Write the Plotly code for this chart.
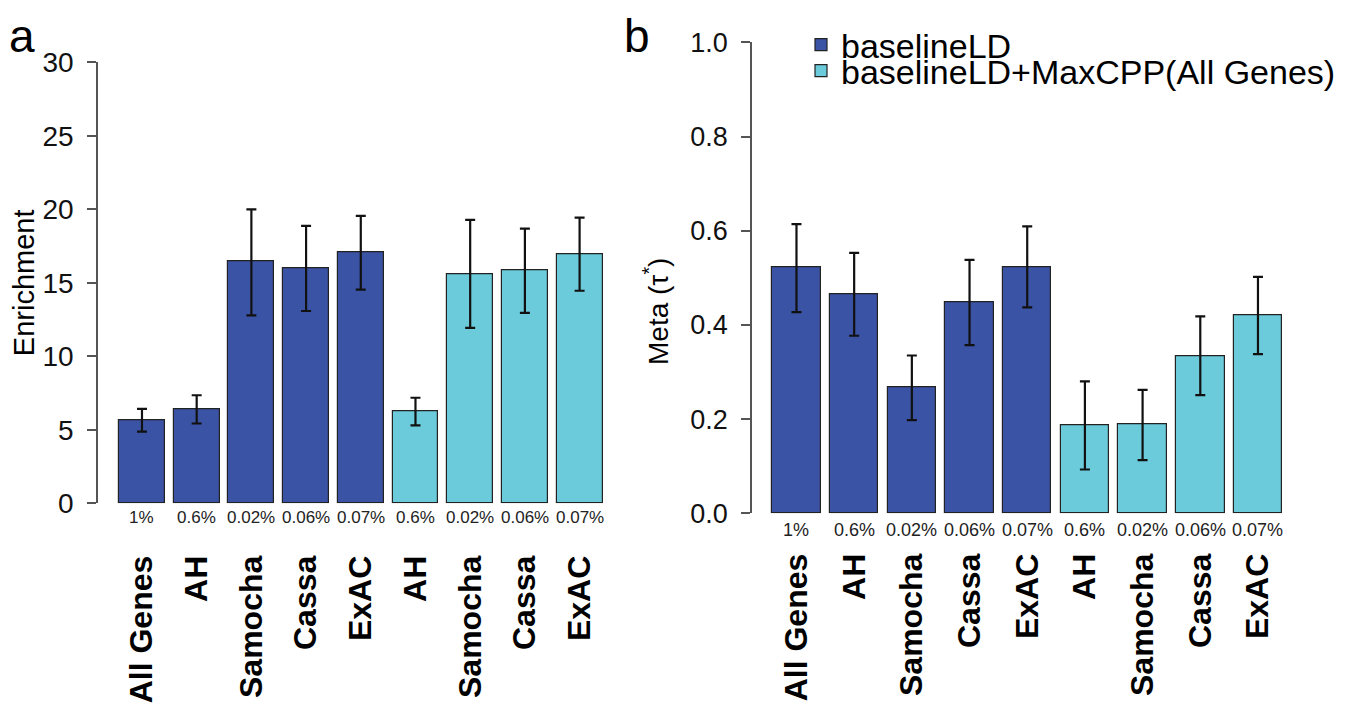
import plotly.graph_objects as go

W, H = 1369, 708
OFF = 8  # page body margin in the browser

categories = ["All Genes", "AH", "Samocha", "Cassa", "ExAC", "AH", "Samocha", "Cassa", "ExAC"]
pct_labels = ["1%", "0.6%", "0.02%", "0.06%", "0.07%", "0.6%", "0.02%", "0.06%", "0.07%"]
group = ["baselineLD"] * 5 + ["baselineLD+MaxCPP(All Genes)"] * 4

# Panel a: Enrichment
enrich = [5.65, 6.40, 16.43, 16.00, 17.06, 6.25, 15.59, 15.84, 16.93]
enrich_hi = [6.43, 7.35, 20.00, 18.87, 19.55, 7.18, 19.28, 18.69, 19.44]
enrich_lo = [4.87, 5.43, 12.78, 13.08, 14.53, 5.30, 11.93, 12.95, 14.46]

# Panel b: Meta tau*
tau = [0.522, 0.466, 0.267, 0.449, 0.522, 0.187, 0.189, 0.334, 0.420]
tau_hi = [0.614, 0.553, 0.335, 0.538, 0.609, 0.280, 0.262, 0.418, 0.502]
tau_lo = [0.427, 0.377, 0.198, 0.357, 0.437, 0.093, 0.113, 0.251, 0.338]

colors = {"baselineLD": "#3A53A4", "baselineLD+MaxCPP(All Genes)": "#6BCBDA"}
FONT = "Liberation Sans, Arial, Helvetica, sans-serif"

fig = go.Figure()

def add_panel(vals, hi, lo, xa, ya, cap, show_legend):
    for gname, legname in [("baselineLD", "legend"), ("baselineLD+MaxCPP(All Genes)", "legend2")]:
        idx = [i for i, g in enumerate(group) if g == gname]
        fig.add_trace(go.Bar(
            x=idx,
            y=[vals[i] for i in idx],
            width=0.84,
            name=gname,
            marker=dict(color=colors[gname], line=dict(color="#222222", width=1.2)),
            error_y=dict(
                type="data", symmetric=False,
                array=[hi[i] - vals[i] for i in idx],
                arrayminus=[vals[i] - lo[i] for i in idx],
                color="#111111", thickness=2.2, width=cap,
            ),
            xaxis=xa, yaxis=ya,
            showlegend=show_legend,
            legend=legname,
        ))

add_panel(enrich, enrich_hi, enrich_lo, "x", "y", 5, False)
add_panel(tau, tau_hi, tau_lo, "x2", "y2", 5, True)

def px_x(p):
    return (p - OFF) / W

def px_y(p):
    return (H - (p - OFF)) / H

xa_common = dict(
    tickmode="array", tickvals=list(range(9)), ticktext=categories,
    tickangle=-90, showline=False, ticks="", showgrid=False, zeroline=False,
    tickfont=dict(family=FONT, size=32, color="black", weight="bold"),
    automargin=False, fixedrange=True,
)
ya_common = dict(
    showline=True, linecolor="#555555", linewidth=1.5,
    ticks="outside", ticklen=9, tickwidth=1.5, tickcolor="#555555",
    showgrid=False, zeroline=False, automargin=False, ticklabelstandoff=8,
)

fig.update_layout(
    width=W, height=H,
    margin=dict(l=0, r=0, t=0, b=0),
    paper_bgcolor="white", plot_bgcolor="white",
    bargap=0,
    font=dict(family=FONT, color="black"),
    xaxis=dict(domain=[px_x(98), px_x(610)], range=[-0.804, 8.556],
               anchor="y", ticklabelstandoff=45, **xa_common),
    yaxis=dict(domain=[px_y(503.3), px_y(62.3)], range=[0, 30],
               tickvals=[0, 5, 10, 15, 20, 25, 30], anchor="x",
               title=dict(text="Enrichment", font=dict(size=29, family=FONT), standoff=0),
               tickfont=dict(family=FONT, size=28, color="#111111"),
               **ya_common),
    xaxis2=dict(domain=[px_x(752), px_x(1292)], range=[-0.771, 8.59],
                anchor="y2", ticklabelstandoff=33, **xa_common),
    yaxis2=dict(domain=[px_y(513.3), px_y(42.3)], range=[0, 1.0],
                tickvals=[0, 0.2, 0.4, 0.6, 0.8, 1.0], tickformat=".1f", anchor="x2",
                tickfont=dict(family=FONT, size=27, color="#111111"),
                **ya_common),
    legend=dict(x=px_x(801), y=px_y(16), xanchor="left", yanchor="top",
                font=dict(family=FONT, size=34, color="black"),
                bgcolor="rgba(0,0,0,0)", itemclick=False, itemdoubleclick=False,
                tracegroupgap=0),
    legend2=dict(x=px_x(801), y=px_y(42), xanchor="left", yanchor="top",
                 font=dict(family=FONT, size=34, color="black"),
                 bgcolor="rgba(0,0,0,0)", itemclick=False, itemdoubleclick=False,
                 tracegroupgap=0),
)

annotations = []
for i, lab in enumerate(pct_labels):
    annotations.append(dict(x=i, y=0, xref="x", yref="y", text=lab, showarrow=False,
                            yanchor="top", yshift=-3, font=dict(family=FONT, size=17, color="#222222")))
    annotations.append(dict(x=i, y=0, xref="x2", yref="y2", text=lab, showarrow=False,
                            yanchor="top", yshift=-5, font=dict(family=FONT, size=18, color="#222222")))
# panel b y-axis title (R mtext position, slightly below axis centre)
annotations.append(dict(x=px_x(656), y=px_y(312), xref="paper", yref="paper",
                        text="Meta (τ<sup>*</sup>)", textangle=-90, showarrow=False,
                        xanchor="center", yanchor="middle",
                        font=dict(family=FONT, size=28, color="black")))
annotations.append(dict(x=px_x(7), y=px_y(8), xref="paper", yref="paper", text="a", showarrow=False,
                        xanchor="left", yanchor="top", font=dict(family=FONT, size=46, color="black")))
annotations.append(dict(x=px_x(622), y=px_y(8), xref="paper", yref="paper", text="b", showarrow=False,
                        xanchor="left", yanchor="top", font=dict(family=FONT, size=46, color="black")))
fig.update_layout(annotations=annotations)

fig.write_html("out.html")
